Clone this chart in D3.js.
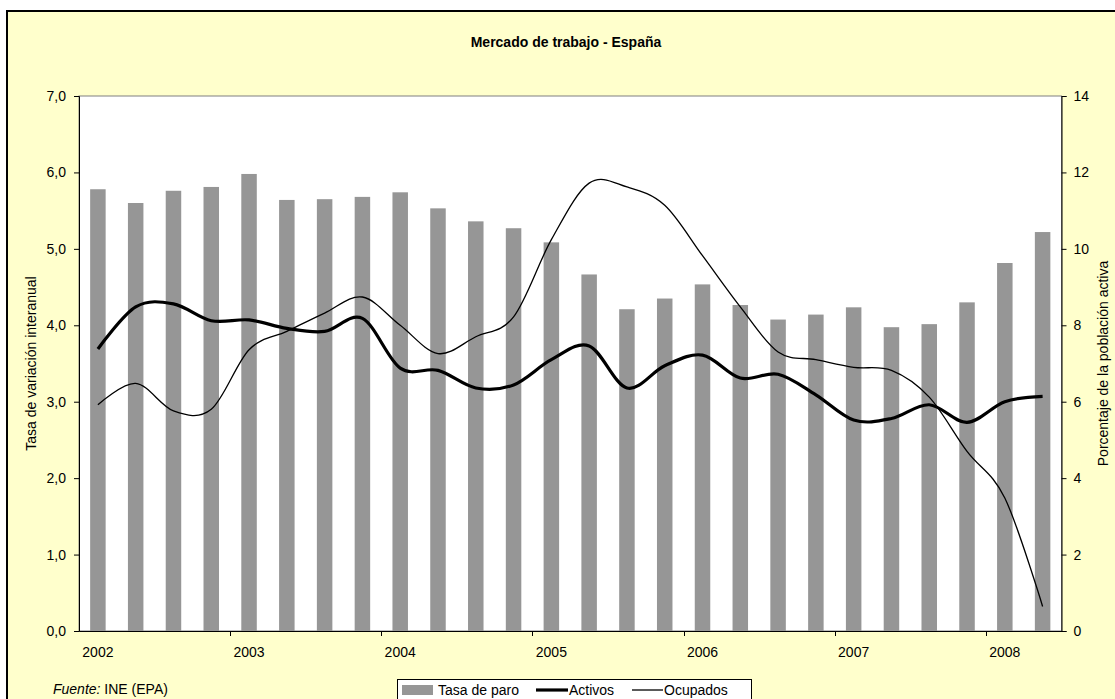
<!DOCTYPE html>
<html>
<head>
<meta charset="utf-8">
<script src="https://cdn.jsdelivr.net/npm/d3@7"></script>
<style>
  html, body { margin: 0; padding: 0; background: #ffffff; }
  svg { display: block; }
  text { font-family: "Liberation Sans", Arial, sans-serif; fill: #000; }
</style>
</head>
<body>
<svg id="chart" width="1115" height="699"></svg>
<script>
// ---------- DATA ----------
const quarters = [
  "2002-I","2002-II","2002-III","2002-IV",
  "2003-I","2003-II","2003-III","2003-IV",
  "2004-I","2004-II","2004-III","2004-IV",
  "2005-I","2005-II","2005-III","2005-IV",
  "2006-I","2006-II","2006-III","2006-IV",
  "2007-I","2007-II","2007-III","2007-IV",
  "2008-I","2008-II"
];
// Tasa de paro (% de la población activa, eje derecho)
const tasaParo = [
  11.56, 11.20, 11.52, 11.62,
  11.96, 11.28, 11.30, 11.36,
  11.48, 11.06, 10.72, 10.54,
  10.17, 9.33, 8.42, 8.70,
  9.07, 8.53, 8.15, 8.28,
  8.47, 7.95, 8.03, 8.60,
  9.63, 10.44
];
// Activos (tasa de variación interanual, eje izquierdo)
const activos = [
  3.69, 4.24, 4.28, 4.06,
  4.07, 3.96, 3.92, 4.09,
  3.44, 3.41, 3.18, 3.22,
  3.55, 3.73, 3.18, 3.47,
  3.61, 3.31, 3.36, 3.09,
  2.76, 2.78, 2.96, 2.73,
  3.00, 3.07
];
// Ocupados (tasa de variación interanual, eje izquierdo)
const ocupados = [
  2.96, 3.24, 2.88, 2.90,
  3.68, 3.92, 4.16, 4.37,
  4.00, 3.63, 3.85, 4.11,
  5.12, 5.86, 5.81, 5.57,
  4.91, 4.24, 3.65, 3.55,
  3.45, 3.41, 3.06, 2.35,
  1.74, 0.32
];
const leftTicks = [0, 1, 2, 3, 4, 5, 6, 7];
const rightTicks = [0, 2, 4, 6, 8, 10, 12, 14];
const yearLabels = ["2002","2003","2004","2005","2006","2007","2008"];

const title = "Mercado de trabajo - España";
const leftTitle = "Tasa de variación interanual";
const rightTitle = "Porcentaje de la población activa";
const seriesNames = ["Tasa de paro", "Activos", "Ocupados"];

// ---------- LAYOUT ----------
const svg = d3.select("#chart");
const plot = { left: 79, right: 1061.5, top: 96, bottom: 631 };

const esLocale = d3.formatLocale({ decimal: ",", thousands: ".", grouping: [3], currency: ["", " €"] });
const fmt1 = esLocale.format(".1f");

const x = d3.scaleBand().domain(quarters).range([plot.left, plot.right]).padding(0);
const yL = d3.scaleLinear().domain([0, 7]).range([plot.bottom, plot.top]);
const yR = d3.scaleLinear().domain([0, 14]).range([plot.bottom, plot.top]);
const barW = x.bandwidth() * 0.41;
const cx = q => x(q) + x.bandwidth() / 2;

// Chart area background
svg.append("rect")
  .attr("x", 7).attr("y", 11).attr("width", 1130).attr("height", 720)
  .attr("fill", "#FFFFCC").attr("stroke", "#000").attr("stroke-width", 2);

// Plot area
svg.append("rect")
  .attr("x", plot.left).attr("y", plot.top)
  .attr("width", plot.right - plot.left).attr("height", plot.bottom - plot.top)
  .attr("fill", "#ffffff").attr("stroke", "#808080").attr("stroke-width", 1);

// Bars
svg.append("g").selectAll("rect").data(quarters).join("rect")
  .attr("x", (q) => cx(q) - barW / 2)
  .attr("y", (q, i) => yR(tasaParo[i]))
  .attr("width", barW)
  .attr("height", (q, i) => yR(0) - yR(tasaParo[i]))
  .attr("fill", "#969696");

// Lines
const line = data => d3.line()
  .x((d, i) => cx(quarters[i]))
  .y(d => yL(d))
  .curve(d3.curveCardinal.tension(0))(data);

svg.append("path").attr("d", line(activos))
  .attr("fill", "none").attr("stroke", "#000").attr("stroke-width", 3.2)
  .attr("stroke-linejoin", "round");
svg.append("path").attr("d", line(ocupados))
  .attr("fill", "none").attr("stroke", "#000").attr("stroke-width", 1.3)
  .attr("stroke-linejoin", "round");

// Left axis
const gL = svg.append("g").attr("transform", `translate(${plot.left},0)`)
  .call(d3.axisLeft(yL).tickValues(leftTicks).tickFormat(fmt1).tickSize(5).tickPadding(8));
gL.select(".domain").attr("stroke", "#000");
gL.selectAll("text").attr("font-size", 14).attr("font-family", "Liberation Sans, Arial, sans-serif").attr("fill", "#000");

// Right axis
const gR = svg.append("g").attr("transform", `translate(${plot.right},0)`)
  .call(d3.axisRight(yR).tickValues(rightTicks).tickFormat(d3.format("d")).tickSize(5).tickPadding(7));
gR.select(".domain").attr("stroke", "#000");
gR.selectAll("text").attr("font-size", 14).attr("font-family", "Liberation Sans, Arial, sans-serif").attr("fill", "#000");

// Bottom axis: labels on the first quarter of each year
const firstQ = quarters.filter(q => q.endsWith("-I"));
const gB = svg.append("g").attr("transform", `translate(0,${plot.bottom})`)
  .call(d3.axisBottom(x).tickValues(firstQ).tickSize(0).tickPadding(16)
    .tickFormat(q => yearLabels[firstQ.indexOf(q)]));
gB.select(".domain").attr("stroke", "#000");
gB.selectAll("text").attr("font-size", 14).attr("font-family", "Liberation Sans, Arial, sans-serif").attr("fill", "#000");
// tick marks between categories, each year
svg.append("g").selectAll("line").data(firstQ.slice(1)).join("line")
  .attr("x1", q => Math.round(x(q)) + 0.5).attr("x2", q => Math.round(x(q)) + 0.5)
  .attr("y1", plot.bottom).attr("y2", plot.bottom + 5)
  .attr("stroke", "#000");

// Title
svg.append("text").attr("x", 566).attr("y", 47)
  .attr("text-anchor", "middle").attr("font-size", 14).attr("font-weight", "bold")
  .text(title);

// Axis titles
svg.append("text")
  .attr("transform", `translate(36,${(plot.top + plot.bottom) / 2}) rotate(-90)`)
  .attr("text-anchor", "middle").attr("font-size", 14).text(leftTitle);
svg.append("text")
  .attr("transform", `translate(1108,${(plot.top + plot.bottom) / 2}) rotate(-90)`)
  .attr("text-anchor", "middle").attr("font-size", 14).text(rightTitle);

// Source
const src = svg.append("text").attr("x", 53).attr("y", 694).attr("font-size", 14);
src.append("tspan").attr("font-style", "italic").text("Fuente:");
src.append("tspan").text(" INE (EPA)");

// Legend
const lg = svg.append("g");
lg.append("rect").attr("x", 397.5).attr("y", 679.5).attr("width", 354).attr("height", 26)
  .attr("fill", "#ffffff").attr("stroke", "#000").attr("stroke-width", 1);
lg.append("rect").attr("x", 402).attr("y", 685).attr("width", 31).attr("height", 10).attr("fill", "#969696");
lg.append("text").attr("x", 438).attr("y", 695).attr("font-size", 14).text(seriesNames[0]);
lg.append("line").attr("x1", 536).attr("x2", 568).attr("y1", 690).attr("y2", 690)
  .attr("stroke", "#000").attr("stroke-width", 3.2);
lg.append("text").attr("x", 569).attr("y", 695).attr("font-size", 14).text(seriesNames[1]);
lg.append("line").attr("x1", 632).attr("x2", 663).attr("y1", 690).attr("y2", 690)
  .attr("stroke", "#000").attr("stroke-width", 1.3);
lg.append("text").attr("x", 664).attr("y", 695).attr("font-size", 14).text(seriesNames[2]);
</script>
</body>
</html>
